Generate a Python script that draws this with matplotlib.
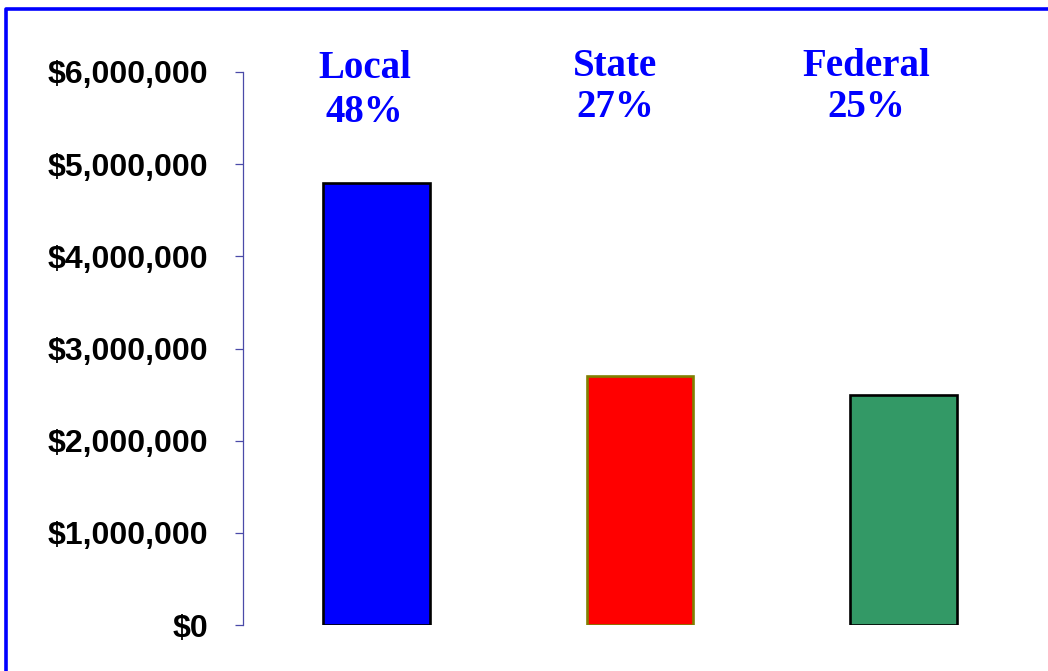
import matplotlib.pyplot as plt
from matplotlib.lines import Line2D

sources = ['Local', 'State', 'Federal']
amounts = [4800000, 2700000, 2500000]
shares = ['48%', '27%', '25%']
fills = ['#0000FF', '#FF0000', '#339966']
edges = ['black', '#808000', 'black']

fig = plt.figure(figsize=(10.48, 6.71), dpi=100)
ax = fig.add_axes([243/1048, 46/671, 794/1048, 553/671])

x = range(len(sources))
ax.bar(x, amounts, width=0.406, color=fills, edgecolor=edges, linewidth=1.9)

ax.set_xlim(-0.507, 2.507)
ax.set_ylim(0, 6000000)
ax.set_yticks(range(0, 6000001, 1000000))
ax.set_yticklabels(['${:,}'.format(v) for v in range(0, 6000001, 1000000)])
ax.set_xticks([])
for side in ('top', 'right', 'bottom'):
    ax.spines[side].set_visible(False)
ax.spines['left'].set_color('#4a4aa8')
ax.spines['left'].set_linewidth(0.9)
ax.tick_params(axis='y', length=6, width=0.9, color='#4a4aa8', pad=19)
for lab in ax.get_yticklabels():
    lab.set_fontfamily('Liberation Sans')
    lab.set_fontweight('bold')
    lab.set_fontsize(23)

# percentage labels above the bars
label_x = [-0.045, 0.906, 1.86]
name_y = [6.04e6, 6.065e6, 6.065e6]
pct_y = [5.565e6, 5.61e6, 5.61e6]
for i in range(len(sources)):
    ax.text(label_x[i], name_y[i], sources[i], ha='center', va='center',
            family='Liberation Serif', weight='bold', fontsize=28,
            color='#0000FF', clip_on=False)
    ax.text(label_x[i], pct_y[i], shares[i], ha='center', va='center',
            family='Liberation Serif', weight='bold', fontsize=28,
            color='#0000FF', clip_on=False)

# blue frame (left and top edges visible)
fx = 6/1048
fy = 1 - 9/671
fig.add_artist(Line2D([fx, fx, 1.05], [-0.05, fy, fy], transform=fig.transFigure,
                      color='#0000FF', linewidth=2.6))

fig.savefig('out.png', dpi=100)
